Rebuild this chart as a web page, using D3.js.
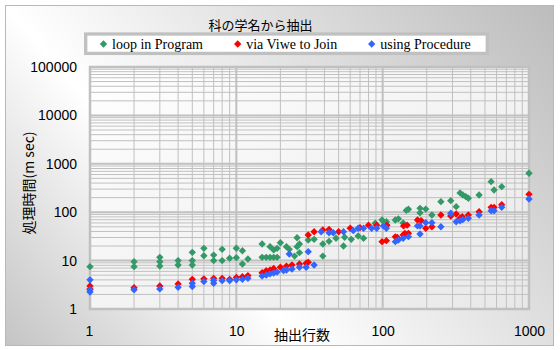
<!DOCTYPE html>
<html><head><meta charset="utf-8">
<script src="https://cdn.jsdelivr.net/npm/d3@7"></script>
<style>body{margin:0;background:#fff}</style>
</head><body>
<svg id="c" width="560" height="350"></svg>
<script>
const chartTitle = "科の学名から抽出";
const xTitle = "抽出行数";
const yTitle = "処理時間(m sec)";
const seriesNames = ["loop in Program", "via Viwe to Join", "using Procedure"];
const seriesColors = ["#339966", "#ff0000", "#3366ff"];
const xTickValues = [1, 10, 100, 1000];
const yTickValues = [1, 10, 100, 1000, 10000, 100000];

// [rows extracted, time in msec]
const loopInProgram = [
 [1,7.5],[2,9.5],[2,7.5],[3,11.7],[3,9.5],[3,7.7],[4,10],[4,8.1],[5,14.8],[5,10],[5,8.1],
 [6,17.9],[6,12.6],[7,13],[7,10],[8,17.1],[8,10],[9,11.2],[10,18],[10,11.5],[11,16],[11,8.5],
 [12,10.8],[15,22],[15,11.7],[16,11.7],[17,19.4],[17,11.7],[18,16.6],[18,11.7],[19,17.9],[19,11.7],
 [20,23.4],[22,19.4],[23,17.1],[25,12.4],[26,29.7],[26,19.4],[27,22],[27,14.6],[31,26.7],[34,27.5],
 [39,12.4],[39,22],[43,25],[48,28.9],[54,20],[55,30.3],[61,27.5],[68,32.2],[74,28.9],[89,59],
 [99,69],[106,63.6],[122,69],[128,73],[138,60],[145,109],[150,115],[180,120],[180,97],[197,116],
 [217,87.5],[250,165],[292,173],[318,130],[338,250],[353,227],[370,210],[385,194],[456,227],
 [551,427],[577,288],[651,337],[1000,637]
];
const viaViweToJoin = [
 [1,3.0],[1,2.6],[2,2.75],[3,3.0],[4,3.3],[5,4.1],[6,4.2],[7,4.3],[8,4.3],[9,4.1],[10,4.5],
 [11,4.65],[12,4.9],[15,5.6],[16,6.2],[17,6.4],[18,6.9],[20,7.3],[22,7.7],[24,8.1],[27,8.5],
 [30,8.8],[31,9.3],[31,34],[34,39.5],[39,43],[43,44],[50,39.5],[60,46.5],[70,48],[80,54],[91,54],
 [99,24.6],[106,25.8],[107,54],[122,31],[126,30],[138,34],[142,36.6],[150,36.6],[139,52],[147,54],
 [173,69],[183,67],[197,46.5],[217,50],[250,87.5],[292,83.5],[318,92],[338,75],[350,81],[385,87.5],
 [456,102],[551,126],[577,126],[651,143],[1000,234]
];
const usingProcedure = [
 [1,4.0],[1,2.5],[1,2.25],[2,2.5],[3,2.6],[4,2.8],[5,3.4],[5,2.9],[6,3.7],[7,3.9],[7,3.4],
 [8,3.85],[9,3.85],[10,4.0],[11,4.1],[12,4.3],[15,4.8],[16,5.0],[17,5.3],[18,5.55],[19,5.8],
 [21,6.2],[22,6.4],[24,6.7],[27,7.3],[30,7.3],[34,8.1],[23,13.7],[31,15.3],[38,39.5],[43,37.7],
 [46,37.7],[54,39.5],[63,41.5],[68,46.5],[74,46.5],[84,46.5],[91,46.5],[101,52],[106,46.5],
 [122,24.6],[128,26.7],[138,28.9],[150,31.2],[173,52],[180,52],[180,35.5],[197,60.7],[217,60.7],
 [250,50],[292,95],[318,63.6],[338,66.7],[353,70],[385,74.8],[456,87.5],[551,107],[577,107],
 [651,126],[1000,187]
];
const seriesData = [loopInProgram, viaViweToJoin, usingProcedure];

const svg = d3.select("#c");
const defs = svg.append("defs");
const bg = defs.append("linearGradient").attr("id","bg")
  .attr("gradientUnits","userSpaceOnUse")
  .attr("x1",-163).attr("y1",151).attr("x2",318).attr("y2",-266);
bg.append("stop").attr("offset",0).attr("stop-color","#c4c4c4");
bg.append("stop").attr("offset",0.35).attr("stop-color","#ffffff");
bg.append("stop").attr("offset",1).attr("stop-color","#bcbcbc");
const pg = defs.append("linearGradient").attr("id","pg")
  .attr("x1",0).attr("y1",0).attr("x2",1).attr("y2",1);
pg.append("stop").attr("offset",0).attr("stop-color","#ffffff");
pg.append("stop").attr("offset",1).attr("stop-color","#e8e8e8");

svg.append("rect").attr("x",5.5).attr("y",5.5).attr("width",548).attr("height",340)
  .attr("fill","url(#bg)").attr("stroke","#b8b8b8");

const x = d3.scaleLog().domain([1,1000]).range([90,529]);
const y = d3.scaleLog().domain([1,100000]).range([309,67]);

svg.append("rect").attr("x",90).attr("y",67).attr("width",439).attr("height",242)
  .attr("fill","url(#pg)");

const minorX = [], minorY = [];
[1,10,100].forEach(d => { for (let k=2;k<10;k++) minorX.push(d*k); });
[1,10,100,1000,10000].forEach(d => { for (let k=2;k<10;k++) minorY.push(d*k); });
const grid = svg.append("g").attr("stroke","#c0c0c0");
grid.selectAll(".mx").data(minorX).join("line")
  .attr("x1",d=>x(d)).attr("x2",d=>x(d)).attr("y1",67).attr("y2",309).attr("stroke-width",1);
grid.selectAll(".my").data(minorY).join("line")
  .attr("y1",d=>y(d)).attr("y2",d=>y(d)).attr("x1",90).attr("x2",529).attr("stroke-width",1);
grid.selectAll(".Mx").data(xTickValues).join("line")
  .attr("x1",d=>x(d)).attr("x2",d=>x(d)).attr("y1",67).attr("y2",309).attr("stroke-width",2);
grid.selectAll(".My").data(yTickValues).join("line")
  .attr("y1",d=>y(d)).attr("y2",d=>y(d)).attr("x1",90).attr("x2",529).attr("stroke-width",2);
svg.append("rect").attr("x",90).attr("y",67).attr("width",439).attr("height",242)
  .attr("fill","none").attr("stroke","#c0c0c0").attr("stroke-width",2.5);

// axes
const yAxis = svg.append("g").attr("transform","translate(90,0)")
  .call(d3.axisLeft(y).tickValues(yTickValues).tickFormat(d3.format("d")).tickSize(0).tickPadding(13));
const xAxis = svg.append("g").attr("transform","translate(0,309)")
  .call(d3.axisBottom(x).tickValues(xTickValues).tickFormat(d3.format("d")).tickSize(0).tickPadding(17));
[yAxis, xAxis].forEach(a => {
  a.select(".domain").remove();
  a.selectAll("text").attr("font-family","'Liberation Sans', Arial, sans-serif")
    .attr("font-size",14).attr("fill","#000");
});
xAxis.selectAll("text").filter(d => d===1).attr("dx",-1);

// markers
const diamond = { draw(ctx, size) { const r = Math.sqrt(size/2);
  ctx.moveTo(0,-r); ctx.lineTo(r,0); ctx.lineTo(0,r); ctx.lineTo(-r,0); ctx.closePath(); } };
const sym = d3.symbol().type(diamond).size(27);
seriesData.forEach((data, i) => {
  svg.append("g").selectAll("path").data(data).join("path")
    .attr("transform", d => `translate(${x(d[0])},${y(d[1])})`)
    .attr("d", sym).attr("fill", seriesColors[i]);
});

// titles
const cjk = "'Noto Sans CJK JP', 'Noto Sans', sans-serif";
svg.append("text").attr("x",260.5).attr("y",24).attr("text-anchor","middle")
  .attr("dominant-baseline","central").attr("font-family",cjk).attr("font-size",13)
  .attr("fill","#000").text(chartTitle);
svg.append("text").attr("x",302).attr("y",334).attr("text-anchor","middle")
  .attr("dominant-baseline","central").attr("font-family",cjk).attr("font-size",14)
  .attr("fill","#000").text(xTitle);
svg.append("text").attr("transform","translate(28,183) rotate(-90)").attr("text-anchor","middle")
  .attr("dominant-baseline","central").attr("font-family",cjk).attr("font-size",14)
  .attr("fill","#000").text(yTitle);

// legend
svg.append("rect").attr("x",85.7).attr("y",34).attr("width",401.6).attr("height",19.4)
  .attr("fill","#fff").attr("stroke","#c0c0c0").attr("stroke-width",3.3);
const legX = [103.5, 237.7, 371.7];
const lg = svg.append("g");
seriesNames.forEach((n, i) => {
  lg.append("path").attr("transform",`translate(${legX[i]},44)`).attr("d", sym).attr("fill", seriesColors[i]);
  lg.append("text").attr("x", legX[i]+8.5).attr("y",48.5)
    .attr("font-family","'Liberation Serif', 'Times New Roman', serif").attr("font-size",14)
    .attr("fill","#000").text(n);
});
</script>
</body></html>
